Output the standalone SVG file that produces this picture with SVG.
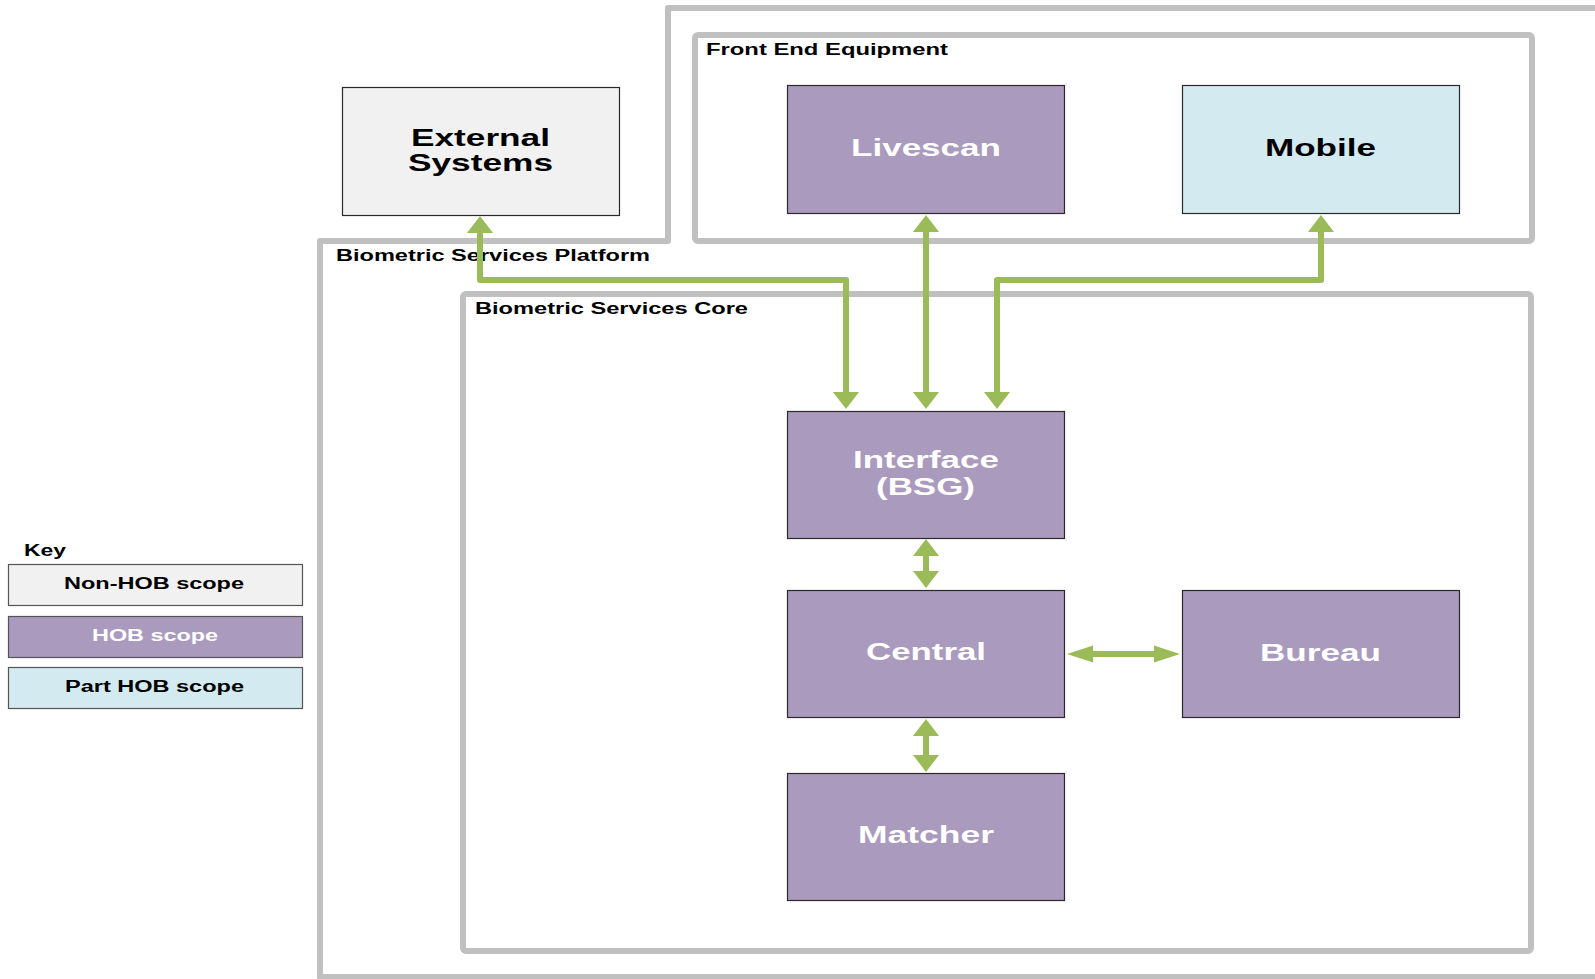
<svg xmlns="http://www.w3.org/2000/svg" width="1595" height="979" viewBox="0 0 1595 979">
<style>
  text { font-family: "Liberation Sans", Arial, sans-serif; font-weight: bold; }
  .cont { fill: none; stroke: #c0c0c0; stroke-width: 6; stroke-linejoin: round; }
  .clabel { font-size: 16px; fill: #000; }
  .node { stroke: #2a2a2a; stroke-width: 1.2; }
  .hob { fill: #aa9abe; }
  .part { fill: #d3eaf0; }
  .non { fill: #f1f1f1; }
  .ntext { font-size: 24px; }
  .wt { fill: #ffffff; }
  .bt { fill: #000000; }
  .conn { fill: none; stroke: #9bbb59; stroke-width: 6; stroke-linejoin: round; }
  .key { stroke: #555; stroke-width: 1.2; }
  .ktext { font-size: 16px; }
</style>
<defs>
  <marker id="av" markerUnits="userSpaceOnUse" viewBox="0 -13 18 26" refX="1" refY="0" markerWidth="18" markerHeight="26" orient="auto-start-reverse">
    <path d="M0,-13 L17,0 L0,13 Z" fill="#9bbb59"/>
  </marker>
  <marker id="ah" markerUnits="userSpaceOnUse" viewBox="0 -9 27 18" refX="1" refY="0" markerWidth="27" markerHeight="18" orient="auto-start-reverse">
    <path d="M0,-8.5 L26,0 L0,8.5 Z" fill="#9bbb59"/>
  </marker>
</defs>
<rect width="1595" height="979" fill="#ffffff"/>

<g id="platform">
  <path class="cont" d="M1600,8 L668,8 L668,241 L320,241 L320,977 L1600,977"/>
  <text class="clabel" x="336" y="261" textLength="314" lengthAdjust="spacingAndGlyphs">Biometric Services Platform</text>
</g>
<g id="front-end">
  <rect class="cont" x="695" y="35" width="837" height="206" rx="3"/>
  <text class="clabel" x="706" y="55" textLength="242" lengthAdjust="spacingAndGlyphs">Front End Equipment</text>
</g>
<g id="core">
  <rect class="cont" x="463" y="294" width="1068" height="657" rx="3"/>
  <text class="clabel" x="475" y="314" textLength="273" lengthAdjust="spacingAndGlyphs">Biometric Services Core</text>
</g>

<g id="external-systems">
  <rect class="node non" x="342.5" y="87.5" width="277" height="128"/>
  <text class="ntext bt" x="411" y="146" textLength="139" lengthAdjust="spacingAndGlyphs">External</text>
  <text class="ntext bt" x="408" y="171" textLength="145" lengthAdjust="spacingAndGlyphs">Systems</text>
</g>
<g id="livescan">
  <rect class="node hob" x="787.5" y="85.5" width="277" height="128"/>
  <text class="ntext wt" x="851" y="156" textLength="150" lengthAdjust="spacingAndGlyphs">Livescan</text>
</g>
<g id="mobile">
  <rect class="node part" x="1182.5" y="85.5" width="277" height="128"/>
  <text class="ntext bt" x="1265" y="156" textLength="111" lengthAdjust="spacingAndGlyphs">Mobile</text>
</g>
<g id="interface">
  <rect class="node hob" x="787.5" y="411.5" width="277" height="127"/>
  <text class="ntext wt" x="853" y="468" textLength="146" lengthAdjust="spacingAndGlyphs">Interface</text>
  <text class="ntext wt" x="876" y="495" textLength="99" lengthAdjust="spacingAndGlyphs">(BSG)</text>
</g>
<g id="central">
  <rect class="node hob" x="787.5" y="590.5" width="277" height="127"/>
  <text class="ntext wt" x="866" y="660" textLength="120" lengthAdjust="spacingAndGlyphs">Central</text>
</g>
<g id="bureau">
  <rect class="node hob" x="1182.5" y="590.5" width="277" height="127"/>
  <text class="ntext wt" x="1260" y="661" textLength="121" lengthAdjust="spacingAndGlyphs">Bureau</text>
</g>
<g id="matcher">
  <rect class="node hob" x="787.5" y="773.5" width="277" height="127"/>
  <text class="ntext wt" x="858" y="843" textLength="136" lengthAdjust="spacingAndGlyphs">Matcher</text>
</g>

<g id="key">
  <text class="ktext" x="24" y="556" textLength="42" lengthAdjust="spacingAndGlyphs">Key</text>
  <rect class="key non" x="8.5" y="564.5" width="294" height="41"/>
  <text class="ktext bt" x="64" y="589" textLength="180" lengthAdjust="spacingAndGlyphs">Non-HOB scope</text>
  <rect class="key hob" x="8.5" y="616.5" width="294" height="41"/>
  <text class="ktext wt" x="92" y="641" textLength="126" lengthAdjust="spacingAndGlyphs">HOB scope</text>
  <rect class="key part" x="8.5" y="667.5" width="294" height="41"/>
  <text class="ktext bt" x="65" y="692" textLength="179" lengthAdjust="spacingAndGlyphs">Part HOB scope</text>
</g>

<g id="connectors">
  <path class="conn" d="M480,232 L480,280 L846,280 L846,393" marker-start="url(#av)" marker-end="url(#av)"/>
  <path class="conn" d="M926,231 L926,393" marker-start="url(#av)" marker-end="url(#av)"/>
  <path class="conn" d="M1321,231 L1321,280 L997,280 L997,393" marker-start="url(#av)" marker-end="url(#av)"/>
  <path class="conn" d="M926,555 L926,572" marker-start="url(#av)" marker-end="url(#av)"/>
  <path class="conn" d="M1092,654 L1155,654" marker-start="url(#ah)" marker-end="url(#ah)"/>
  <path class="conn" d="M926,735 L926,756" marker-start="url(#av)" marker-end="url(#av)"/>
</g>
</svg>
